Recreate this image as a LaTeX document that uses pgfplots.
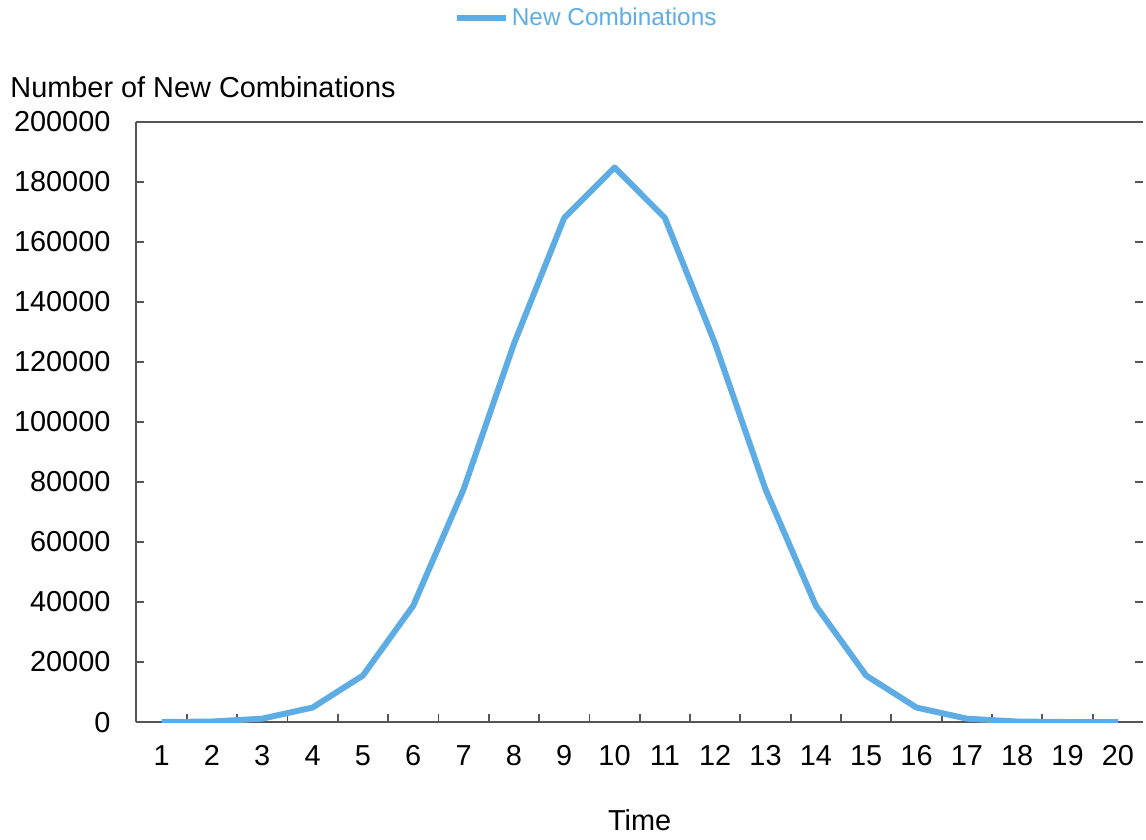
\documentclass[border=0pt]{standalone}
\usepackage{fontspec}
\setmainfont{Liberation Sans}
\usepackage{pgfplots}
\pgfplotsset{compat=1.18}
\definecolor{lineblue}{RGB}{93,173,228}
\definecolor{axisgray}{RGB}{85,85,85}

\begin{document}
\begin{tikzpicture}
\pgfplotsset{
  common/.style={
    scale only axis,
    width=404.4pt, height=241.2pt,
    xmin=0.5, xmax=20.5, ymin=0, ymax=200000,
    tick align=inside,
    major tick length=3.2pt,
    /pgf/number format/fixed,
    /pgf/number format/precision=0,
    /pgf/number format/assume math mode=true,
    /pgf/number format/1000 sep={},
    scaled y ticks=false,
    tick label style={font=\fontsize{11.6}{14}\selectfont},
  },
}
% main axis: left, top and bottom lines
\begin{axis}[
  common,
  name=main,
  axis y line*=left,
  axis x line*=box,
  xtick pos=left,
  axis line style={axisgray, line width=0.8pt},
  every tick/.style={axisgray, line width=0.7pt},
  xtick={1.5,2.5,...,19.5},
  xticklabels={},
  extra x ticks={1,2,...,20},
  extra x tick style={major tick length=0pt},
  xticklabel style={yshift=-6pt},
  ytick={0,20000,...,200000},
  yticklabel style={xshift=-6.9pt},
  xlabel={Time},
  xlabel style={at={(axis description cs:0.5,0)}, anchor=center, yshift=-39.6pt,
    font=\fontsize{11.6}{14}\selectfont},
  legend style={draw=none, fill=none, at={(axis description cs:0.447,1)}, anchor=center,
    yshift=41.6pt, font=\fontsize{9.8}{12}\selectfont, text=lineblue,
    nodes={inner sep=1pt}},
  legend image code/.code={\draw[#1] (0pt,0pt) -- (20pt,0pt);},
]
\addplot[lineblue, line width=2.4pt, line join=round] coordinates {
  (1,20) (2,190) (3,1140) (4,4845) (5,15504) (6,38760) (7,77520)
  (8,125970) (9,167960) (10,184756) (11,167960) (12,125970) (13,77520)
  (14,38760) (15,15504) (16,4845) (17,1140) (18,190) (19,20) (20,1)
};
\legend{New Combinations}
\end{axis}
% right-hand tick marks only
\begin{axis}[
  common,
  axis y line*=right,
  axis x line=none,
  y axis line style={draw=none},
  every tick/.style={axisgray, line width=0.7pt},
  ytick={0,20000,...,200000},
  yticklabels={},
  yticklabel style={inner sep=0pt},
]
\end{axis}
\node[anchor=base west, inner sep=0pt, font=\fontsize{11.6}{14}\selectfont]
  at ([xshift=-50.8pt, yshift=9.6pt]main.north west) {Number of New Combinations};
\path ([xshift=-54.8pt]main.south west);
\end{tikzpicture}
\end{document}
